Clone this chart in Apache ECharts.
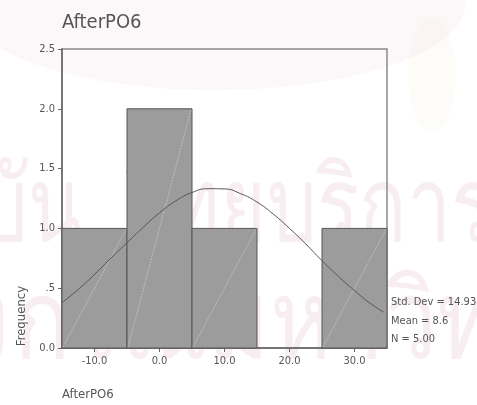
<!DOCTYPE html>
<html>
<head>
<meta charset="utf-8">
<script src="https://cdn.jsdelivr.net/npm/echarts@6/dist/echarts.min.js"></script>
<style>
  html, body { margin: 0; padding: 0; background: #ffffff; }
  #chart { width: 477px; height: 405px; }
</style>
</head>
<body>
<div id="chart"></div>
<script>
// Histogram of AfterPO6 (bin width 10) with fitted normal curve
const binStarts = [-15, -5, 5, 15, 25];
const binEnds = [-5, 5, 15, 25, 35];
const counts = [1, 2, 1, 0, 1];

// Normal curve heights read along the x range
const curveX = [-15, -12.5, -10, -7.5, -5, -2.5, 0, 2.5, 5, 7.5, 10, 12.5, 15, 17.5, 20, 22.5, 25, 27.5, 30, 32.5, 34.5];
const curveY = [0.38, 0.49, 0.615, 0.75, 0.88, 1.01, 1.13, 1.23, 1.30, 1.332, 1.33, 1.29, 1.22, 1.12, 1.0, 0.87, 0.73, 0.60, 0.48, 0.37, 0.30];

const xTickValues = [-10, 0, 10, 20, 30];
const yTickLabels = ['0.0', '.5', '1.0', '1.5', '2.0', '2.5'];

const statsLines = ['Std. Dev = 14.93', 'Mean = 8.6', 'N = 5.00'];

// Page watermark lines (two words per line)
const markTop = ['สถาบัน', 'วิทยบริการ'];
const markBottom = ['จุฬาลง', 'กรณ์มหาวิทยาลัย'];

const FONT = '"DejaVu Sans Condensed", "DejaVu Sans", sans-serif';
const TEXT = '#555555';
const MARK_FILL = 'rgba(205,140,170,0.15)';

const measureCtx = document.createElement('canvas').getContext('2d');

// one watermark line: first word ends at endX, second word starts at startX
function markLine(parts, sizePx, sx, endX, startX, top) {
  const font = sizePx + 'px "Noto Sans", sans-serif';
  measureCtx.font = font;
  const w0 = measureCtx.measureText(parts[0]).width * sx;
  const base = { type: 'text', z: -4, silent: true, y: top, scaleX: sx };
  return [
    Object.assign({}, base, { x: endX - w0,
      style: { text: parts[0], font: font, fill: MARK_FILL, verticalAlign: 'top' } }),
    Object.assign({}, base, { x: startX,
      style: { text: parts[1], font: font, fill: MARK_FILL, verticalAlign: 'top' } })
  ];
}

const chart = echarts.init(document.getElementById('chart'), null, { renderer: 'canvas' });

const barData = binStarts.map((s, i) => [s, binEnds[i], counts[i]]);
const curveData = curveX.map((x, i) => [x, curveY[i]]);

chart.setOption({
  backgroundColor: '#ffffff',
  animation: false,
  graphic: [
    { type: 'ellipse', z: -5, silent: true, shape: { cx: 215, cy: 5, rx: 250, ry: 85 },
      style: { fill: 'rgba(235,210,220,0.16)' } },
    { type: 'ellipse', z: -5, silent: true, shape: { cx: 432, cy: 75, rx: 24, ry: 58 },
      style: { fill: 'rgba(240,230,205,0.12)' } },
    ...markLine(markTop, 105, 0.75, 82, 124, 159),
    ...markLine(markBottom, 110, 0.85, 10, 14, 272),
    { type: 'text', left: 62, top: 13,
      style: { text: 'AfterPO6', font: '20px ' + FONT, fill: TEXT } },
    { type: 'text', left: 62, top: 388,
      style: { text: 'AfterPO6', font: '13px ' + FONT, fill: TEXT } },
    { type: 'text', x: 22, y: 316, rotation: Math.PI / 2,
      style: { text: 'Frequency', font: '13px ' + FONT, fill: TEXT, align: 'center', verticalAlign: 'middle' } },
    { type: 'group', left: 391, top: 297,
      children: statsLines.map((t, i) => ({
        type: 'text', y: i * 18.5,
        style: { text: t, font: '11px ' + FONT, fill: TEXT }
      })) }
  ],
  grid: {
    left: 62, top: 49, width: 325, height: 299,
    show: true, borderColor: '#8a8a8a', borderWidth: 1.5, backgroundColor: 'transparent'
  },
  xAxis: {
    type: 'value', min: -15, max: 35,
    axisLine: { show: true, onZero: false, lineStyle: { color: '#666', width: 1.5 } },
    axisTick: { show: true, customValues: xTickValues, length: 4, lineStyle: { color: '#666' } },
    axisLabel: { customValues: xTickValues, formatter: v => v.toFixed(1),
      color: TEXT, fontSize: 11, fontFamily: FONT, margin: 8 },
    splitLine: { show: false }
  },
  yAxis: {
    type: 'value', min: 0, max: 2.5, interval: 0.5,
    axisLine: { show: true, onZero: false, lineStyle: { color: '#666', width: 1.5 } },
    axisTick: { show: true, length: 4, lineStyle: { color: '#666' } },
    axisLabel: { formatter: (v) => yTickLabels[Math.round(v / 0.5)],
      color: TEXT, fontSize: 11, fontFamily: FONT, margin: 7 },
    splitLine: { show: false }
  },
  series: [
    {
      type: 'custom',
      data: barData,
      encode: { x: [0, 1], y: 2 },
      renderItem: function (params, api) {
        const c = api.value(2);
        if (!c) return null;
        const p0 = api.coord([api.value(0), 0]);
        const p1 = api.coord([api.value(1), c]);
        return {
          type: 'group',
          children: [
            { type: 'rect',
              shape: { x: p0[0], y: p1[1], width: p1[0] - p0[0], height: p0[1] - p1[1] },
              style: { fill: '#9c9c9c', stroke: '#555', lineWidth: 1 } },
            { type: 'line',
              shape: { x1: p0[0] + 1, y1: p0[1] - 1, x2: p1[0] - 1, y2: p1[1] + 1 },
              style: { stroke: 'rgba(225,225,225,0.7)', lineWidth: 0.7, lineDash: [2, 1] } }
          ]
        };
      },
      z: 2
    },
    {
      type: 'line',
      data: curveData,
      smooth: true,
      showSymbol: false,
      lineStyle: { color: '#555', width: 1 },
      z: 3
    }
  ]
});
</script>
</body>
</html>
